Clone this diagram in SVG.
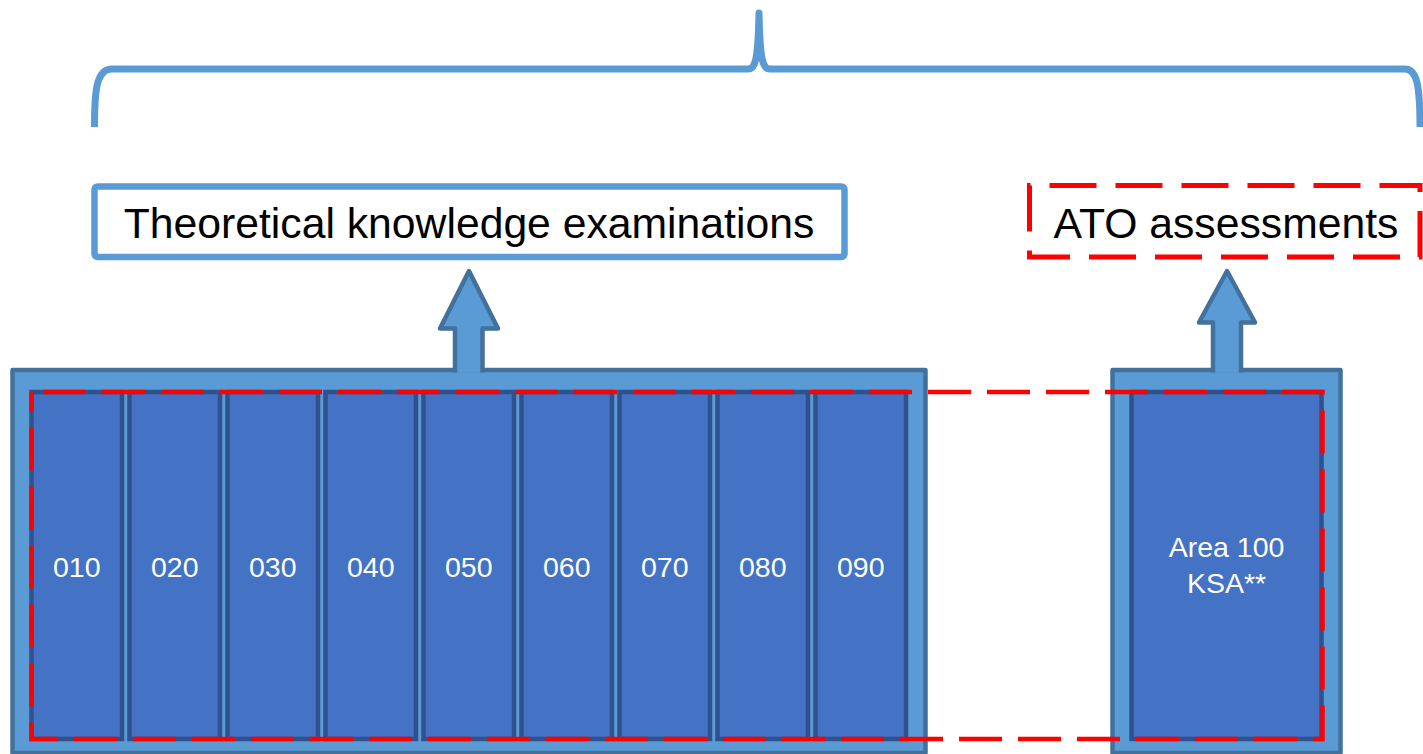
<svg xmlns="http://www.w3.org/2000/svg" width="1423" height="754" viewBox="0 0 1423 754">
<style>
.lbl{font-family:"Liberation Sans",Arial,sans-serif;font-size:42.7px;fill:#000;text-anchor:middle}
.num{font-family:"Liberation Sans",Arial,sans-serif;font-size:28.5px;fill:#fff;text-anchor:middle}
.cont{fill:#5B9BD5;stroke:#41719C;stroke-width:4.5;stroke-linejoin:round}
.col{fill:#4472C4;stroke:#2F528F;stroke-width:4.5}
.arrow{fill:#5B9BD5;stroke:#41719C;stroke-width:4.5;stroke-linejoin:round}
</style>
<rect width="1423" height="754" fill="#fff"/>
<g id="brace">
<path d="M94.5,127 C94.5,92 96,69 112,69 H748 C755,69 758,62 759,13 C760,62 763,69 770,69 H1405 C1417,69 1420,86 1420,127" fill="none" stroke="#5B9BD5" stroke-width="7" stroke-linejoin="round"/>
</g>
<g id="theory-label">
<rect x="94.5" y="186.5" width="750" height="70.5" rx="3" fill="#fff" stroke="#5B9BD5" stroke-width="6.5"/>
<text class="lbl" x="469" y="238">Theoretical knowledge examinations</text>
</g>
<g id="ato-label">
<rect x="1029.5" y="185.5" width="390.5" height="71.5" fill="#fff" stroke="#FF0000" stroke-width="5" stroke-dasharray="47 19" stroke-dashoffset="46"/>
<text class="lbl" x="1226" y="238">ATO assessments</text>
</g>
<g id="subjects">
<rect class="cont" x="12.5" y="370" width="913" height="383"/>
<rect class="col" x="31.5" y="392" width="90.5" height="347"/>
<rect class="col" x="129.5" y="392" width="90.5" height="347"/>
<rect class="col" x="227.5" y="392" width="90.5" height="347"/>
<rect class="col" x="325.5" y="392" width="90.5" height="347"/>
<rect class="col" x="423.5" y="392" width="90.5" height="347"/>
<rect class="col" x="521.5" y="392" width="90.5" height="347"/>
<rect class="col" x="619.5" y="392" width="90.5" height="347"/>
<rect class="col" x="717.5" y="392" width="90.5" height="347"/>
<rect class="col" x="815.5" y="392" width="90.5" height="347"/>
<text class="num" x="76.75" y="577">010</text>
<text class="num" x="174.75" y="577">020</text>
<text class="num" x="272.75" y="577">030</text>
<text class="num" x="370.75" y="577">040</text>
<text class="num" x="468.75" y="577">050</text>
<text class="num" x="566.75" y="577">060</text>
<text class="num" x="664.75" y="577">070</text>
<text class="num" x="762.75" y="577">080</text>
<text class="num" x="860.75" y="577">090</text>
</g>
<g id="area100">
<rect class="cont" x="1112.5" y="370" width="228" height="383"/>
<rect class="col" x="1131.5" y="392" width="190" height="347"/>
<text class="num" x="1226.5" y="557" font-size="28px">Area 100</text>
<text class="num" x="1226.5" y="593" font-size="28px">KSA**</text>
</g>
<g id="ato-scope">
<rect x="31.5" y="392" width="1291" height="347" fill="none" stroke="#FF0000" stroke-width="4.5" stroke-dasharray="43 16" stroke-dashoffset="47.5"/>
</g>
<g id="connectors">
<path class="arrow" d="M455,372.5 V328.5 H440 L469,271 L498,328.5 H482.5 V372.5"/>
<path class="arrow" d="M1213,372.5 V322.5 H1199 L1227,271 L1255,322.5 H1241 V372.5"/>
</g>
</svg>
